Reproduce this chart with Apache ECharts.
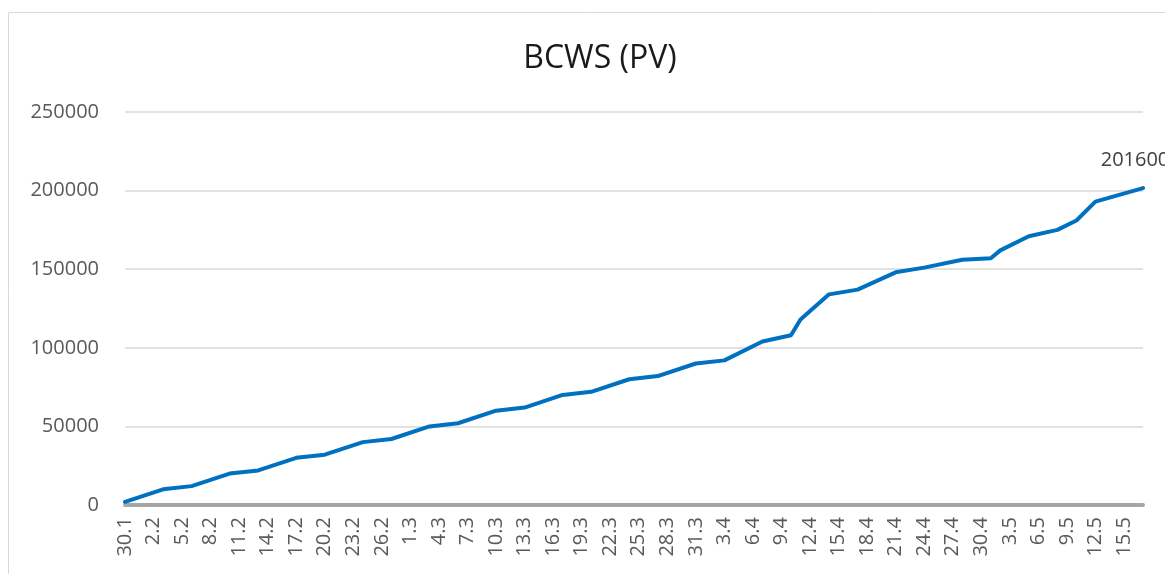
<!DOCTYPE html>
<html>
<head>
<meta charset="utf-8">
<title>BCWS (PV)</title>
<script src="https://cdn.jsdelivr.net/npm/echarts@6/dist/echarts.min.js"></script>
<style>
  html, body { margin: 0; padding: 0; background: #ffffff; }
  #bcws-chart-div { width: 1165px; height: 574px; }
</style>
</head>
<body>
<div id="bcws-chart-div"></div>
<script>
// every calendar day on the axis, 30.1 .. 17.5
var bcws_days = [
    '30.1', '31.1',
    '1.2', '2.2', '3.2', '4.2', '5.2', '6.2', '7.2', '8.2', '9.2', '10.2', '11.2', '12.2', '13.2', '14.2',
    '15.2', '16.2', '17.2', '18.2', '19.2', '20.2', '21.2', '22.2', '23.2', '24.2', '25.2', '26.2', '27.2', '28.2',
    '1.3', '2.3', '3.3', '4.3', '5.3', '6.3', '7.3', '8.3', '9.3', '10.3', '11.3', '12.3', '13.3', '14.3', '15.3',
    '16.3', '17.3', '18.3', '19.3', '20.3', '21.3', '22.3', '23.3', '24.3', '25.3', '26.3', '27.3', '28.3', '29.3',
    '30.3', '31.3',
    '1.4', '2.4', '3.4', '4.4', '5.4', '6.4', '7.4', '8.4', '9.4', '10.4', '11.4', '12.4', '13.4', '14.4', '15.4',
    '16.4', '17.4', '18.4', '19.4', '20.4', '21.4', '22.4', '23.4', '24.4', '25.4', '26.4', '27.4', '28.4', '29.4',
    '30.4',
    '1.5', '2.5', '3.5', '4.5', '5.5', '6.5', '7.5', '8.5', '9.5', '10.5', '11.5', '12.5', '13.5', '14.5', '15.5',
    '16.5', '17.5'
];

// dates where the line bends, and the value read there
var bcws_pointDates = [
    '30.1', '3.2', '6.2', '10.2', '13.2', '17.2', '20.2', '24.2', '27.2',
    '3.3', '6.3', '10.3', '13.3', '17.3', '20.3', '24.3', '27.3', '31.3',
    '3.4', '7.4', '10.4', '11.4', '14.4', '17.4', '21.4', '24.4', '28.4',
    '1.5', '2.5', '5.5', '8.5', '10.5', '12.5', '17.5'
];
var bcws_pointValues = [
    2000, 10000, 12000, 20000, 22000, 30000, 32000, 40000, 42000,
    50000, 52000, 60000, 62000, 70000, 72000, 80000, 82000, 90000,
    92000, 104000, 108000, 118000, 134000, 137000, 148000, 151000, 156000,
    157000, 162000, 171000, 175000, 181000, 193000, 201600
];

var bcws_chartDom = document.getElementById('bcws-chart-div');
var bcws_myChart = echarts.init(bcws_chartDom, null, { renderer: 'canvas' });

var bcws_font = '"Open Sans", "Noto Sans", sans-serif';
var bcws_lastDate = bcws_pointDates[bcws_pointDates.length - 1];

var bcws_data = bcws_days.map(function (day) {
    var i = bcws_pointDates.indexOf(day);
    if (i < 0) {
        return null;
    }
    if (day === bcws_lastDate) {
        return {
            value: bcws_pointValues[i],
            label: {
                show: true,
                position: 'top',
                distance: 18,
                offset: [-8, 0],
                color: '#404040',
                fontFamily: bcws_font,
                fontSize: 20,
                formatter: '{c}'
            }
        };
    }
    return bcws_pointValues[i];
});

var bcws_option = {
    backgroundColor: '#ffffff',
    animation: false,
    title: {
        text: 'BCWS (PV)',
        left: 595,
        top: 38,
        textAlign: 'center',
        textStyle: {
            color: '#1a1a1a',
            fontFamily: bcws_font,
            fontSize: 32,
            fontWeight: 'normal'
        }
    },
    graphic: [
        {
            type: 'rect',
            silent: true,
            shape: { x: 8.5, y: 12.5, width: 1200, height: 600 },
            style: { fill: 'none', stroke: '#d9d9d9', lineWidth: 1 }
        }
    ],
    grid: {
        left: 125,
        right: 22,
        top: 112,
        bottom: 69,
        containLabel: false
    },
    xAxis: {
        type: 'category',
        boundaryGap: false,
        data: bcws_days,
        axisLine: {
            show: true,
            lineStyle: { color: '#a6a6a6', width: 4 }
        },
        axisTick: { show: false },
        axisLabel: {
            interval: 2,
            rotate: 90,
            margin: 12,
            color: '#595959',
            fontFamily: bcws_font,
            fontSize: 20
        },
        splitLine: { show: false }
    },
    yAxis: {
        type: 'value',
        min: 0,
        max: 250000,
        interval: 50000,
        axisLine: { show: false },
        axisTick: { show: false },
        axisLabel: {
            margin: 26,
            color: '#595959',
            fontFamily: bcws_font,
            fontSize: 20,
            formatter: function (v) { return String(v); }
        },
        splitLine: {
            lineStyle: { color: '#d9d9d9', width: 1.5 }
        }
    },
    series: [
        {
            name: 'BCWS (PV)',
            type: 'line',
            data: bcws_data,
            connectNulls: true,
            showSymbol: true,
            symbol: 'circle',
            symbolSize: 0,
            lineStyle: { color: '#0070c0', width: 4, join: 'round', cap: 'round' },
            itemStyle: { color: '#0070c0' }
        }
    ]
};

if (bcws_option && typeof bcws_option === 'object') {
    bcws_myChart.setOption(bcws_option);
}
</script>
</body>
</html>
